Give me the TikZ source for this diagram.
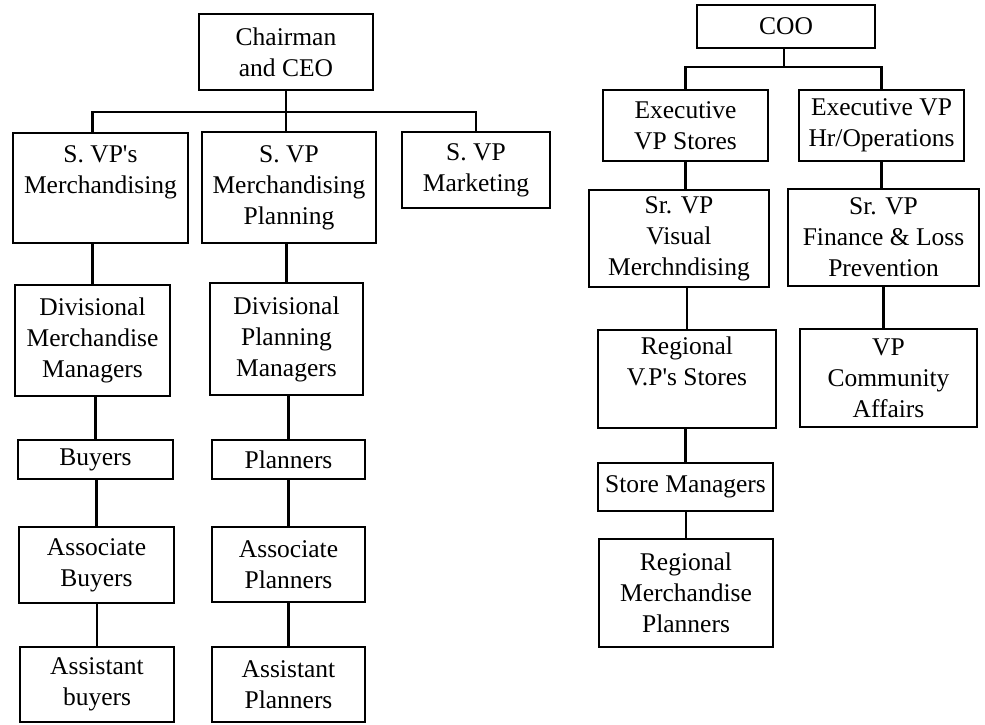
\documentclass[tikz,border=0pt]{standalone}
\usepackage{fontspec}
\setmainfont{Liberation Serif}
\usetikzlibrary{positioning}

\begin{document}
\begin{tikzpicture}[
    x=1pt, y=-1pt,
    box/.style={rectangle, draw, line width=2.4pt, align=center, inner sep=0pt, font=\fontsize{25.5}{31}\selectfont, minimum width=#1},
    box/.default=155pt,
    conn/.style={line width=2.4pt},
]
    \useasboundingbox (0,0) rectangle (985,724);

    % Chairman side
    \node[box=174pt, minimum height=76pt] (ceo) at (286,52) {Chairman\\and CEO};

    \node[box=175pt, minimum height=110pt] (svpm) at (100.5,188) {S. VP\textquotesingle s\\Merchandising\\\vphantom{g}};
    \node[box=174pt, minimum height=111pt] (mpl) at (289,187.5) {S. VP\\Merchandising\\Planning};
    \node[box=148pt, minimum height=76pt] (mkt) at (476,170) {S. VP\\Marketing};

    % Merchandising column
    \node[box=155pt, minimum height=111pt] (dmm) at (92.5,340.5) {Divisional\\Merchandise\\Managers};
    \node[box=155pt, minimum height=39pt] (buy) at (95.5,459.5) {Buyers};
    \node[box=155pt, minimum height=76pt] (abuy) at (96.5,565) {Associate\\Buyers};
    \node[box=154pt, minimum height=75pt] (asbuy) at (97,684.5) {Assistant\\buyers};

    % Planning column
    \node[box=153pt, minimum height=112pt] (dpm) at (286.5,339) {Divisional\\Planning\\Managers};
    \node[box=153pt, minimum height=39pt] (pla) at (288.5,459.5) {Planners};
    \node[box=153pt, minimum height=75pt] (apla) at (288.5,564.5) {Associate\\Planners};
    \node[box=153pt, minimum height=75pt] (aspla) at (288.5,684.5) {Assistant\\Planners};

    % COO side
    \node[box=178pt, minimum height=43pt] (coo) at (786,26.5) {COO};

    \node[box=165pt, minimum height=71pt] (evps) at (685.5,125.5) {Executive\\VP Stores};
    \node[box=165pt, minimum height=71pt] (evph) at (881.5,125.5) {Executive VP\\Hr/Operations};

    % Stores column
    \node[box=180pt, minimum height=97pt] (svis) at (679,238.5) {Sr. VP\\Visual\\Merchndising};
    \node[box=178pt, minimum height=98pt] (rvps) at (687,379) {Regional\\V.P\textquotesingle s Stores\\\vphantom{g}};
    \node[box=175pt, minimum height=48pt] (stm) at (685.5,487) {Store Managers};
    \node[box=174pt, minimum height=108pt] (rmp) at (686,593) {Regional\\Merchandise\\Planners};

    % Hr column
    \node[box=191pt, minimum height=97pt] (sfin) at (883.5,237.5) {Sr. VP\\Finance \& Loss\\Prevention};
    \node[box=177pt, minimum height=98pt] (vpca) at (888.5,378) {VP\\Community\\Affairs};

    % Connectors
    \coordinate (lbus) at (286,112);
    \draw[conn] (ceo.south) -- (ceo.south |- mpl.north);
    \draw[conn] (svpm.north -| dmm.north) |- (lbus) -| (mkt.north);
    \draw[conn] (dmm.north) -- (dmm.north |- svpm.south);
    \draw[conn] (buy.north) -- (buy.north |- dmm.south);
    \draw[conn] (abuy.north) -- (abuy.north |- buy.south);
    \draw[conn] (asbuy.north) -- (asbuy.north |- abuy.south);
    \draw[conn] (dpm.north) -- (dpm.north |- mpl.south);
    \draw[conn] (pla.north) -- (pla.north |- dpm.south);
    \draw[conn] (apla.north) -- (apla.north |- pla.south);
    \draw[conn] (aspla.north) -- (aspla.north |- apla.south);

    \coordinate (rbus) at (784,67);
    \draw[conn] (coo.south -| rbus) -- (rbus);
    \draw[conn] (evps.north) |- (rbus) -| (evph.north);
    \draw[conn] (svis.north -| evps.south) -- (evps.south);
    \draw[conn] (rvps.north) -- (rvps.north |- svis.south);
    \draw[conn] (stm.north) -- (stm.north |- rvps.south);
    \draw[conn] (rmp.north) -- (rmp.north |- stm.south);
    \draw[conn] (sfin.north -| evph.south) -- (evph.south);
    \draw[conn] (vpca.north -| sfin.south) -- (sfin.south);

\end{tikzpicture}
\end{document}
